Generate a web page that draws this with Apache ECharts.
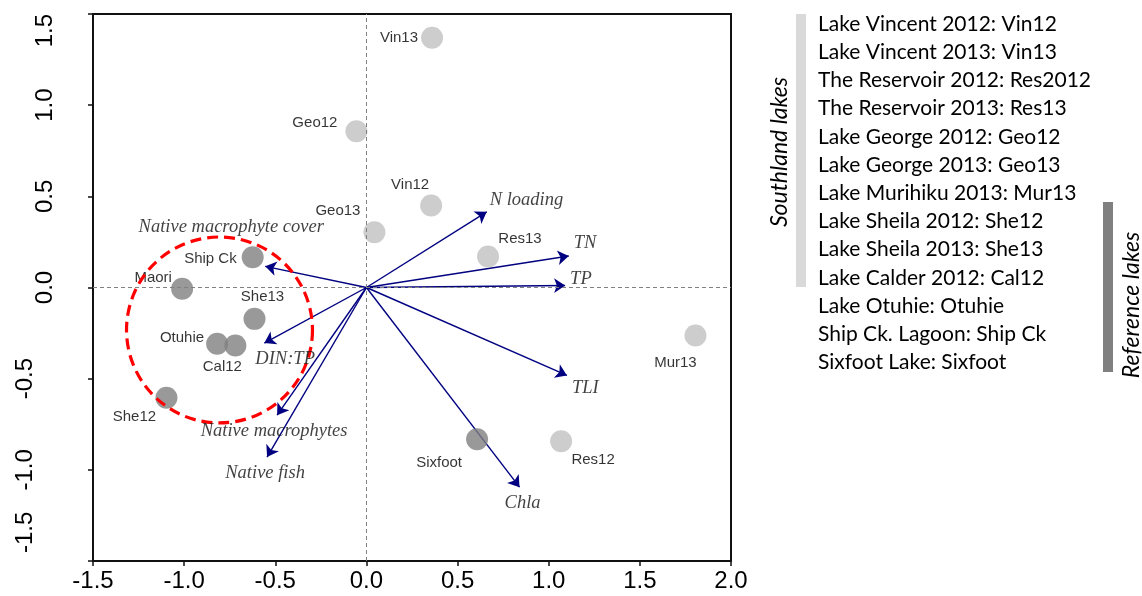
<!DOCTYPE html>
<html>
<head>
<meta charset="utf-8">
<script src="https://cdn.jsdelivr.net/npm/echarts@6/dist/echarts.min.js"></script>
<style>
html,body{margin:0;padding:0;background:#fff;}
#chart{width:1142px;height:596px;}
</style>
</head>
<body>
<div id="chart"></div>
<script>
// ---- data ----
const siteNames = ['Vin13','Geo12','Geo13','Vin12','Res13','Mur13','Res12','Sixfoot','Ship Ck','Maori','She13','Otuhie','Cal12','She12'];
const siteX = [0.36,-0.055,0.044,0.355,0.667,1.805,1.068,0.607,-0.624,-1.011,-0.614,-0.819,-0.719,-1.097];
const siteY = [1.37,0.857,0.303,0.45,0.17,-0.263,-0.843,-0.832,0.166,-0.007,-0.172,-0.309,-0.318,-0.605];
const siteShade = ['light','light','light','light','light','light','light','dark','dark','dark','dark','dark','dark','dark'];

const arrowNames = ['N loading','TN','TP','TLI','Chla','Native macrophyte cover','DIN:TP','Native macrophytes','Native fish'];
const arrowX = [0.66,1.11,1.09,1.1,0.84,-0.555,-0.56,-0.49,-0.545];
const arrowY = [0.415,0.173,0.011,-0.482,-1.095,0.116,-0.305,-0.70,-0.93];

const circleCenterX = -0.806;
const circleCenterY = -0.233;
const circleRadius = 0.51;

const xTicks = {min:-1.5, max:2.0, interval:0.5};
const yTicks = {min:-1.5, max:1.5, interval:0.5};

const legendLines = ['Lake Vincent 2012: Vin12','Lake Vincent 2013: Vin13','The Reservoir 2012: Res2012','The Reservoir 2013: Res13','Lake George 2012: Geo12','Lake George 2013: Geo13','Lake Murihiku 2013: Mur13','Lake Sheila 2012: She12','Lake Sheila 2013: She13','Lake Calder 2012: Cal12','Lake Otuhie: Otuhie','Ship Ck. Lagoon: Ship Ck','Sixfoot Lake: Sixfoot'];

// ---- label placement (style only, pixel offsets from the point) ----
const siteLabelPos = {
  'Vin13':[-14,0,'right'],'Geo12':[-19,-8,'right'],'Geo13':[-14,-21,'right'],'Vin12':[-21,-21,'center'],
  'Res13':[32,-18,'center'],'Mur13':[-20,27,'center'],'Res12':[32,19,'center'],'Sixfoot':[-38,24,'center'],
  'Ship Ck':[-16,2,'right'],'Maori':[-29,-11,'center'],'She13':[8,-22,'center'],'Otuhie':[-13,-6,'right'],
  'Cal12':[-13,21,'center'],'She12':[-32,19,'center']
};
const arrowLabelPos = {
  'N loading':[3,-12,'left'],'TN':[5,-12.5,'left'],'TP':[5,-6,'left'],'TLI':[5,13,'left'],'Chla':[3,16,'center'],
  'Native macrophyte cover':[-34,-39,'center'],'DIN:TP':[-9,16,'left'],'Native macrophytes':[-3,16,'center'],'Native fish':[-2,16,'center']
};

const shadeColor = {light:'#c0c0c0', dark:'#808080'};
const SYM = 22;

const siteData = siteNames.map((n,i)=>{
  const p = siteLabelPos[n];
  return {
    name:n, value:[siteX[i],siteY[i]],
    itemStyle:{color:shadeColor[siteShade[i]]},
    label:{show:true, formatter:n, position:[p[0]+SYM/2,p[1]+SYM/2], align:p[2], verticalAlign:'middle'}
  };
});

const arrowLinesData = arrowNames.map((n,i)=>({coords:[[0,0],[arrowX[i],arrowY[i]]]}));
const arrowLabelData = arrowNames.map((n,i)=>{
  const p = arrowLabelPos[n];
  return {name:n, value:[arrowX[i],arrowY[i]],
    label:{show:true, formatter:n, position:[p[0],p[1]], align:p[2], verticalAlign:'middle'}};
});

const chart = echarts.init(document.getElementById('chart'), null, {renderer:'canvas'});

const legendGraphics = legendLines.map((t,i)=>({
  type:'text', x:818, y:24 + i*28.2, z:10,
  style:{text:t, font:'21px Lato', fill:'#000', textAlign:'left', align:'left', textVerticalAlign:'middle', verticalAlign:'middle'}
}));

const option = {
  animation:false,
  backgroundColor:'#fff',
  grid:{left:93, right:411, top:14, bottom:35, containLabel:false, outerBoundsMode:'none',
    show:true, borderColor:'#111', borderWidth:2, backgroundColor:'transparent'},
  xAxis:{
    type:'value', min:xTicks.min, max:xTicks.max, interval:xTicks.interval,
    axisLine:{show:true, onZero:false, lineStyle:{color:'#111', width:2}},
    axisTick:{show:true, length:5, lineStyle:{color:'#111', width:1.5}},
    splitLine:{show:false},
    axisLabel:{color:'#000', fontFamily:'Liberation Sans', fontSize:24, margin:8, formatter:v=>v.toFixed(1)}
  },
  yAxis:{
    type:'value', min:yTicks.min, max:yTicks.max, interval:yTicks.interval,
    axisLine:{show:true, onZero:false, lineStyle:{color:'#111', width:2}},
    axisTick:{show:true, length:5, lineStyle:{color:'#111', width:1.5}},
    splitLine:{show:false},
    axisLabel:{color:'#000', fontFamily:'Liberation Sans', fontSize:24, rotate:90, margin:36,
      alignMinLabel:'left', alignMaxLabel:'right',
      formatter:v=> v === yTicks.min ? '{m|'+v.toFixed(1)+'}' : (v < 0 ? '{n|'+v.toFixed(1)+'}' : '{p|'+v.toFixed(1)+'}'),
      rich:{
        p:{fontFamily:'Liberation Sans', fontSize:24, color:'#000'},
        n:{fontFamily:'Liberation Sans', fontSize:24, color:'#000', padding:[0,0,20,0]},
        m:{fontFamily:'Liberation Sans', fontSize:24, color:'#000', padding:[0,0,20,8]}
      }
    }
  },
  graphic:[
    ...legendGraphics,
    {type:'rect', shape:{x:796, y:14, width:10, height:273}, style:{fill:'#d9d9d9'}, z:5},
    {type:'rect', shape:{x:1103, y:202, width:10, height:170}, style:{fill:'#808080'}, z:5},
    {type:'text', x:780, y:152, rotation:Math.PI/2, z:10,
      style:{text:'Southland lakes', font:'italic 23px Lato', fill:'#000', textAlign:'center', align:'center', textVerticalAlign:'middle', verticalAlign:'middle'}},
    {type:'text', x:1132, y:305, rotation:Math.PI/2, z:10,
      style:{text:'Reference lakes', font:'italic 23px Lato', fill:'#000', textAlign:'center', align:'center', textVerticalAlign:'middle', verticalAlign:'middle'}}
  ],
  series:[
    {
      type:'lines', coordinateSystem:'cartesian2d', z:2,
      data:arrowLinesData,
      symbol:['none','arrow'], symbolSize:11,
      lineStyle:{color:'#000080', width:1.4, opacity:1},
      silent:true,
      markLine:{
        silent:true, symbol:['none','none'], label:{show:false},
        lineStyle:{color:'#808080', type:[4,3], width:1},
        data:[{xAxis:0},{yAxis:0}]
      }
    },
    {
      type:'scatter', z:3, symbol:'circle', symbolSize:SYM,
      data:siteData,
      label:{color:'#000', fontFamily:'Liberation Sans', fontSize:15},
      silent:true
    },
    {
      type:'custom', z:4, silent:true,
      data:[[circleCenterX, circleCenterY, circleRadius]],
      renderItem:(params, api)=>{
        const c = api.coord([api.value(0), api.value(1)]);
        const s = api.size([api.value(2), api.value(2)]);
        return {type:'circle', shape:{cx:c[0], cy:c[1], r:(s[0]+s[1])/2},
          style:{fill:'none', stroke:'#ff0000', lineWidth:3.2, lineDash:[11,6]}};
      }
    },
    {
      type:'scatter', z:5, symbolSize:0, silent:true,
      data:arrowLabelData,
      label:{color:'#111', fontFamily:'Liberation Serif', fontStyle:'italic', fontSize:18.5}
    }
  ]
};
chart.setOption(option);
</script>
</body>
</html>
